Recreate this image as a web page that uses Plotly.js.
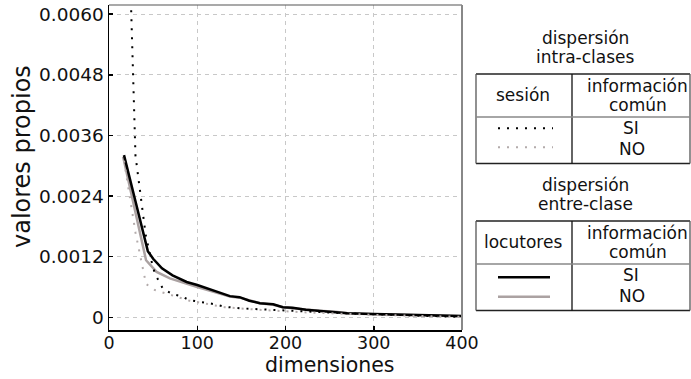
<!DOCTYPE html>
<html>
<head>
<meta charset="utf-8">
<script src="https://cdn.plot.ly/plotly-3.0.1.min.js"></script>
<style>html,body{margin:0;padding:0;background:#fff;}#chart{width:691px;height:379px;}</style>
</head>
<body>
<div id="chart"></div>
<script>
// entre-clase, información común SI (black solid)
const entreSiX = [17, 44, 50, 60, 72, 88, 100, 118, 137, 148, 159, 171, 186, 197, 208, 223, 238, 257, 270, 300, 345, 400];
const entreSiY = [0.00321, 0.00131, 0.00116, 0.00097, 0.00083, 0.00070, 0.00064, 0.00053, 0.00042, 0.00040, 0.00033, 0.00028, 0.00026, 0.00020, 0.00019, 0.00015, 0.00013, 0.00011, 0.00008, 0.000065, 0.000045, 0.000025];
// entre-clase, información común NO (grey solid)
const entreNoX = [16, 42, 54, 69, 100, 137, 148, 159, 171, 186, 197, 208, 223, 238, 257, 270, 300, 345, 400];
const entreNoY = [0.00318, 0.00113, 0.00090, 0.00077, 0.00060, 0.00041, 0.00039, 0.00033, 0.00028, 0.00025, 0.00020, 0.00018, 0.00015, 0.00013, 0.00011, 0.00008, 0.000062, 0.000043, 0.000024];
// intra-clases, información común SI (black dotted)
const intraSiX = [20, 30, 41.5, 46, 50, 54, 61, 72, 82, 91, 101, 110, 120, 131, 148, 170, 193, 220, 257, 300, 350, 400];
const intraSiY = [0.0091, 0.0032, 0.00164, 0.00127, 0.00097, 0.00080, 0.00057, 0.00046, 0.00042, 0.00034, 0.00031, 0.00029, 0.00026, 0.00021, 0.00018, 0.00016, 0.00014, 0.00011, 0.00009, 0.00006, 0.00003, 0.00001];
// intra-clases, información común NO (grey dotted)
const intraNoX = [17, 30, 35, 39, 42, 52, 72, 91, 110, 131, 170, 220, 300, 400];
const intraNoY = [0.0031, 0.00168, 0.00125, 0.00095, 0.00066, 0.00054, 0.00043, 0.00033, 0.00027, 0.00020, 0.00015, 0.00010, 0.00005, 0.00001];

const yTickVals = [0, 0.0012, 0.0024, 0.0036, 0.0048, 0.0060];
const yTickText = ['0', '0.0012', '0.0024', '0.0036', '0.0048', '0.0060'];
const xTickVals = [0, 100, 200, 300, 400];

const BLACK = '#000000';
const GREY = '#aba2a2';
const GREYDOT = '#b3abab';
const DOTDASH = '2px,7px';

const traces = [
  {x: entreNoX, y: entreNoY, mode: 'lines', line: {color: GREY, width: 2.5}, hoverinfo: 'skip'},
  {x: entreSiX, y: entreSiY, mode: 'lines', line: {color: BLACK, width: 2.5}, hoverinfo: 'skip'},
  {x: intraNoX, y: intraNoY, mode: 'lines', line: {color: GREYDOT, width: 2, dash: DOTDASH}, hoverinfo: 'skip'},
  {x: intraSiX, y: intraSiY, mode: 'lines', line: {color: BLACK, width: 2, dash: DOTDASH}, hoverinfo: 'skip'}
];

// pixel -> paper helpers (plot area: x 109..462, y 5..330)
const L = 109, R = 462, T = 5, B = 330;
const px = v => (v - L) / (R - L);
const py = v => (B - v) / (B - T);

const shapes = [];
const annotations = [];
function line(x0, y0, x1, y1, color, width, dash) {
  shapes.push({type: 'line', xref: 'paper', yref: 'paper', x0: px(x0), y0: py(y0), x1: px(x1), y1: py(y1),
    line: {color: color, width: width, dash: dash || 'solid'}});
}
function text(x, y, s, size, angle) {
  annotations.push({xref: 'paper', yref: 'paper', x: px(x), y: py(y), text: s, showarrow: false,
    xanchor: 'center', yanchor: 'middle', textangle: angle || 0, borderpad: 0,
    font: {family: 'DejaVu Sans', size: size || 17, color: '#111'}});
}
// plot frame top & right (grey)
line(L, T, R, T, '#555', 1.2);
line(R, T, R, B, '#888', 2);

// axis titles
text(22, 157, 'valores propios', 24, -90);
text(330, 365, 'dimensiones', 20.5);

function table(top, title2, col1, samples) {
  text(585, top - 36, 'dispersión');
  text(585, top - 17, title2);
  line(476, top, 690, top, '#222', 1.3);
  line(476, top + 89.5, 690, top + 89.5, '#222', 1.3);
  line(476, top, 476, top + 89.5, '#555', 1.3);
  line(690, top, 690, top + 89.5, '#555', 1.3);
  line(572, top, 572, top + 89.5, '#111', 1.3);
  line(476, top + 43, 690, top + 43, '#888', 1.3);
  text(523, top + 21, col1);
  text(637, top + 12, 'información');
  text(638, top + 31, 'común');
  text(631, top + 54, 'SI');
  text(632, top + 74.5, 'NO');
  samples(top);
}
table(74, 'intra-clases', 'sesión', t => {
  line(498, t + 54.3, 553, t + 54.3, BLACK, 2, DOTDASH);
  line(498, t + 73.3, 553, t + 73.3, GREYDOT, 2, DOTDASH);
});
table(221, 'entre-clase', 'locutores', t => {
  line(498, t + 56.3, 550, t + 56.3, BLACK, 2.5);
  line(498, t + 75.7, 550, t + 75.7, GREY, 2.5);
});

const layout = {
  width: 691, height: 379,
  margin: {l: L, r: 691 - R, t: T, b: 379 - B},
  paper_bgcolor: '#fff', plot_bgcolor: '#fff',
  showlegend: false,
  font: {family: 'DejaVu Sans', color: '#111'},
  xaxis: {
    range: [0, 400], tickvals: xTickVals, ticks: 'inside', ticklen: 4, tickwidth: 1.5, tickcolor: '#000',
    showline: true, linecolor: '#000', linewidth: 1.5, zeroline: false, ticklabelstandoff: -4,
    showgrid: true, gridcolor: '#c8c8c8', griddash: '4px,4px', gridwidth: 1,
    tickfont: {family: 'DejaVu Sans', size: 17.5, color: '#111'}
  },
  yaxis: {
    range: [-0.00025, 0.00618], tickvals: yTickVals, ticktext: yTickText, ticks: 'inside', ticklen: 4, tickwidth: 1.5, tickcolor: '#000',
    showline: true, linecolor: '#000', linewidth: 1.5, zeroline: false,
    showgrid: true, gridcolor: '#c8c8c8', griddash: '4px,4px', gridwidth: 1,
    tickfont: {family: 'DejaVu Sans', size: 18.5, color: '#111'}
  },
  shapes: shapes,
  annotations: annotations
};

Plotly.newPlot('chart', traces, layout, {staticPlot: true, displayModeBar: false});
</script>
</body>
</html>
